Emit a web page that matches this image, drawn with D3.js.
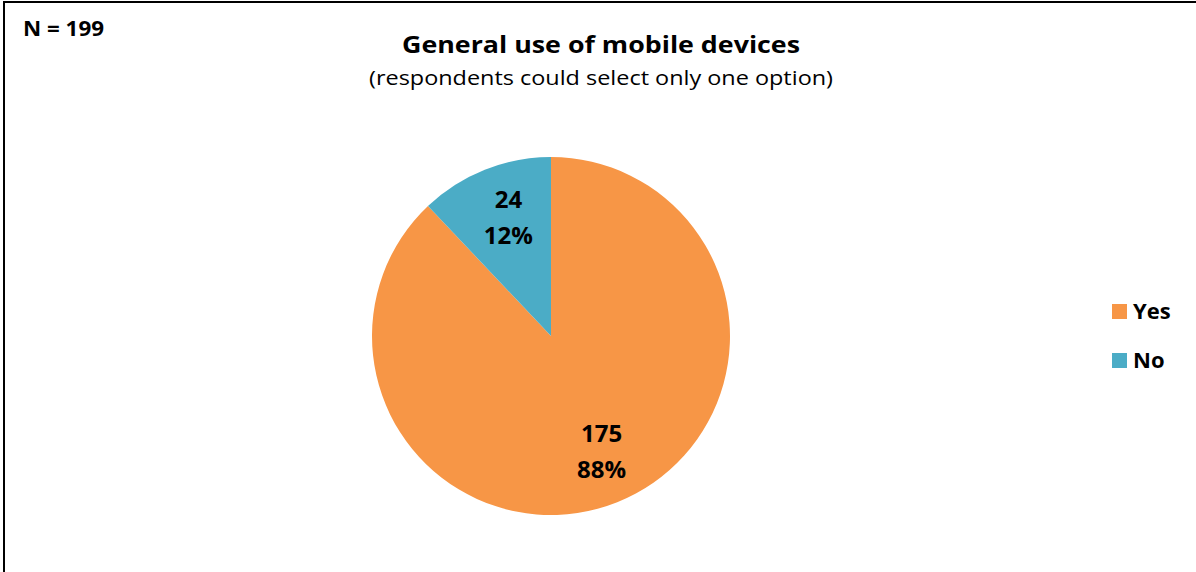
<!DOCTYPE html>
<html>
<head>
<meta charset="utf-8">
<script src="https://cdn.jsdelivr.net/npm/d3@7"></script>
<style>
  body { margin: 0; background: #fff; }
  text { font-family: "Open Sans", "Noto Sans", sans-serif; }
</style>
</head>
<body>
<div id="chart"></div>
<script>
const svgWidth = 1196
const svgHeight = 572

// chart data
const categories = ["Yes", "No"]
const counts = [175, 24]
const percents = ["88%", "12%"]
const colors = ["#F79646", "#4BACC6"]
const totalN = 199

let svg = d3
  .select("#chart")
  .append("svg")
  .attr("width", svgWidth)
  .attr("height", svgHeight)

// outer frame (only left and top visible in the crop)
svg.append("path")
  .attr("d", `M4,${svgHeight + 5} L4,2 L${svgWidth + 5},2`)
  .attr("fill", "none")
  .attr("stroke", "#000")
  .attr("stroke-width", 2)

svg.append("text")
  .attr("x", 23)
  .attr("y", 36)
  .style("font-size", "21px")
  .style("font-weight", "bold")
  .attr("textLength", 81)
  .attr("lengthAdjust", "spacingAndGlyphs")
  .text(`N = ${totalN}`)

svg.append("text")
  .attr("x", 601)
  .attr("y", 53)
  .attr("text-anchor", "middle")
  .style("font-size", "24px")
  .style("font-weight", "bold")
  .attr("textLength", 398)
  .attr("lengthAdjust", "spacingAndGlyphs")
  .text("General use of mobile devices")

svg.append("text")
  .attr("x", 601)
  .attr("y", 85)
  .attr("text-anchor", "middle")
  .style("font-size", "20px")
  .attr("textLength", 464)
  .attr("lengthAdjust", "spacingAndGlyphs")
  .text("(respondents could select only one option)")

let cx = 551, cy = 336, radius = 179

let pie = d3.pie().sort(null).value(d => d)
let arcs = pie(counts)

let arc = d3.arc().innerRadius(0).outerRadius(radius)
let labelArc = d3.arc().innerRadius(252).outerRadius(0)

let pieGroup = svg.append("g")
  .attr("transform", `translate(${cx}, ${cy})`)

pieGroup.selectAll("path")
  .data(arcs)
  .enter()
  .append("path")
  .attr("d", arc)
  .attr("fill", (d, i) => colors[i])

let labels = pieGroup.selectAll(".slice-label")
  .data(arcs)
  .enter()
  .append("text")
  .classed("slice-label", true)
  .attr("transform", d => `translate(${labelArc.centroid(d)})`)
  .attr("text-anchor", "middle")
  .style("font-size", "24px")
  .style("font-weight", "bold")

labels.append("tspan")
  .attr("x", 4)
  .attr("y", -11)
  .text((d, i) => counts[i])

labels.append("tspan")
  .attr("x", 4)
  .attr("y", 25)
  .text((d, i) => percents[i])

let legend = svg.append("g")
  .attr("transform", "translate(1112, 304)")

let legendItems = legend.selectAll("g")
  .data(categories)
  .enter()
  .append("g")
  .attr("transform", (d, i) => `translate(0, ${i * 49})`)

legendItems.append("rect")
  .attr("width", 15)
  .attr("height", 15)
  .attr("fill", (d, i) => colors[i])

legendItems.append("text")
  .attr("x", 21)
  .attr("y", 15)
  .style("font-size", "22px")
  .style("font-weight", "bold")
  .text(d => d)
</script>
</body>
</html>
